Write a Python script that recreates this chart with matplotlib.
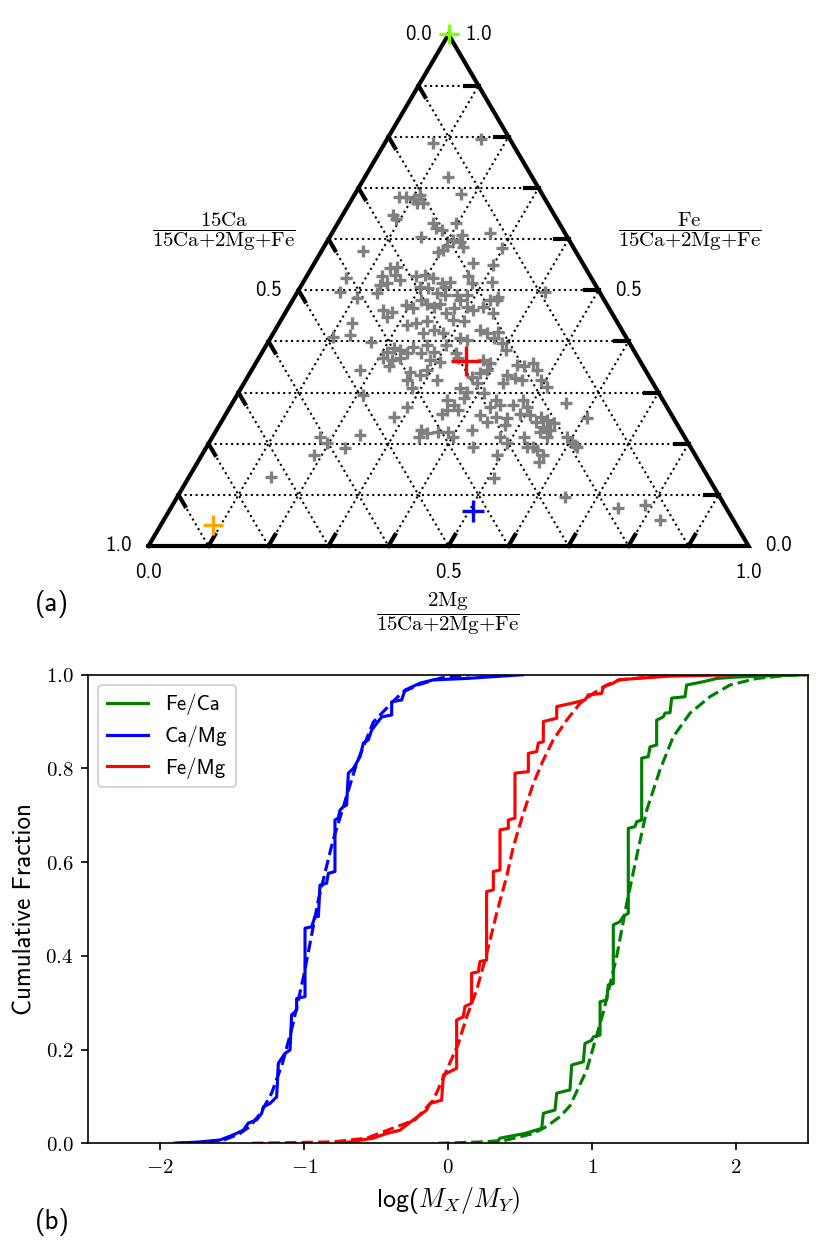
import matplotlib
matplotlib.use('Agg')
import matplotlib.pyplot as plt

plt.rcParams['font.family'] = ['cmss10', 'DejaVu Sans']
plt.rcParams['mathtext.fontset'] = 'cm'
plt.rcParams['axes.unicode_minus'] = False
plt.rcParams['font.size'] = 10

# ---------------- ternary data (fractions of 2Mg and Fe; 15Ca = 1 - both) ----
mg_frac = [0.080, 0.138, 0.177, 0.077, 0.088, 0.103, 0.110, 0.112, 0.122, 0.084,
           0.093, 0.159, 0.169, 0.180, 0.197, 0.152, 0.069, 0.195, 0.204, 0.209,
           0.068, 0.070, 0.125, 0.131, 0.141, 0.146, 0.140, 0.131, 0.159, 0.183,
           0.196, 0.213, 0.232, 0.240, 0.199, 0.214, 0.233, 0.249, 0.245, 0.157,
           0.218, 0.221, 0.232, 0.202, 0.263, 0.298, 0.265, 0.300, 0.269, 0.282,
           0.314, 0.412, 0.285, 0.269, 0.339, 0.105, 0.133, 0.121, 0.130, 0.103,
           0.181, 0.172, 0.160, 0.176, 0.173, 0.194, 0.209, 0.213, 0.227, 0.241,
           0.249, 0.269, 0.287, 0.214, 0.229, 0.245, 0.250, 0.264, 0.283, 0.207,
           0.215, 0.227, 0.208, 0.223, 0.236, 0.225, 0.242, 0.246, 0.265, 0.267,
           0.285, 0.287, 0.306, 0.266, 0.286, 0.292, 0.318, 0.268, 0.285, 0.324,
           0.210, 0.355, 0.359, 0.371, 0.294, 0.282, 0.340, 0.354, 0.244, 0.179,
           0.388, 0.401, 0.197, 0.232, 0.186, 0.279, 0.276, 0.296, 0.310, 0.324,
           0.329, 0.340, 0.347, 0.306, 0.342, 0.356, 0.373, 0.372, 0.391, 0.316,
           0.329, 0.300, 0.333, 0.376, 0.390, 0.392, 0.384, 0.373, 0.388, 0.405,
           0.437, 0.450, 0.462, 0.475, 0.430, 0.447, 0.460, 0.432, 0.491, 0.508,
           0.365, 0.379, 0.381, 0.364, 0.383, 0.409, 0.437, 0.448, 0.433, 0.470,
           0.482, 0.494, 0.489, 0.557, 0.425, 0.442, 0.452, 0.472, 0.476, 0.508,
           0.527, 0.525, 0.541, 0.541, 0.555, 0.556, 0.541, 0.557, 0.605, 0.426,
           0.479, 0.497, 0.518, 0.533, 0.590, 0.603, 0.612, 0.553, 0.569, 0.491,
           0.343, 0.137, 0.371, 0.444, 0.544, 0.568, 0.617, 0.509, 0.646, 0.746,
           0.788, 0.827]
fe_frac = [0.787, 0.721, 0.688, 0.682, 0.683, 0.679, 0.686, 0.670, 0.671, 0.647,
           0.639, 0.631, 0.621, 0.618, 0.632, 0.605, 0.577, 0.575, 0.587, 0.598,
           0.523, 0.497, 0.527, 0.543, 0.546, 0.530, 0.514, 0.510, 0.520, 0.527,
           0.530, 0.523, 0.514, 0.507, 0.507, 0.504, 0.494, 0.491, 0.516, 0.795,
           0.608, 0.595, 0.585, 0.579, 0.611, 0.582, 0.553, 0.549, 0.527, 0.514,
           0.517, 0.497, 0.491, 0.491, 0.487, 0.484, 0.495, 0.435, 0.413, 0.409,
           0.344, 0.399, 0.461, 0.458, 0.448, 0.471, 0.465, 0.481, 0.474, 0.468,
           0.474, 0.455, 0.442, 0.432, 0.435, 0.439, 0.416, 0.422, 0.416, 0.380,
           0.387, 0.383, 0.367, 0.364, 0.367, 0.351, 0.377, 0.390, 0.377, 0.393,
           0.380, 0.364, 0.360, 0.341, 0.334, 0.344, 0.325, 0.325, 0.308, 0.378,
           0.295, 0.285, 0.259, 0.276, 0.272, 0.253, 0.227, 0.220, 0.217, 0.214,
           0.223, 0.214, 0.201, 0.191, 0.178, 0.481, 0.465, 0.468, 0.461, 0.468,
           0.481, 0.481, 0.455, 0.439, 0.422, 0.416, 0.419, 0.406, 0.396, 0.406,
           0.403, 0.393, 0.367, 0.364, 0.357, 0.344, 0.338, 0.331, 0.318, 0.383,
           0.354, 0.351, 0.357, 0.344, 0.334, 0.328, 0.325, 0.318, 0.325, 0.311,
           0.308, 0.302, 0.289, 0.266, 0.266, 0.299, 0.285, 0.276, 0.272, 0.276,
           0.285, 0.272, 0.259, 0.279, 0.256, 0.243, 0.253, 0.250, 0.237, 0.256,
           0.253, 0.243, 0.246, 0.233, 0.240, 0.227, 0.223, 0.214, 0.250, 0.227,
           0.214, 0.201, 0.214, 0.194, 0.214, 0.204, 0.197, 0.188, 0.178, 0.178,
           0.214, 0.135, 0.223, 0.194, 0.194, 0.165, 0.194, 0.132, 0.096, 0.074,
           0.080, 0.051]

special_mg = [0.348, 0.087, 0.507, 0.000]
special_fe = [0.362, 0.042, 0.068, 1.000]
special_colors = ['red', 'orange', 'blue', '#7fff00']
special_sizes = [14.5, 10, 10.5, 10]

grid_values = [0.1, 0.2, 0.3, 0.4, 0.5, 0.6, 0.7, 0.8, 0.9]
label_values = [0.0, 0.5, 1.0]

# ---------------- cumulative distributions ----------------
feca_x = [0.338, 0.361, 0.535, 0.651, 0.662, 0.743, 0.755, 0.847, 0.859, 0.940,
          0.951, 0.998, 1.009, 1.056, 1.056, 1.102, 1.113, 1.148, 1.148, 1.194,
          1.217, 1.252, 1.252, 1.299, 1.310, 1.345, 1.345, 1.391, 1.403, 1.449,
          1.449, 1.495, 1.507, 1.542, 1.553, 1.646, 1.657, 1.773, 1.866, 2.005,
          2.375, 2.500]
feca_y = [0.000, 0.011, 0.021, 0.032, 0.064, 0.071, 0.107, 0.114, 0.167, 0.174,
          0.213, 0.220, 0.227, 0.231, 0.302, 0.306, 0.338, 0.341, 0.466, 0.473,
          0.484, 0.491, 0.672, 0.676, 0.686, 0.690, 0.822, 0.825, 0.846, 0.850,
          0.903, 0.910, 0.918, 0.919, 0.950, 0.953, 0.978, 0.985, 0.992, 0.995,
          0.999, 1.000]
feca_fit_x = [-0.069, 0.245, 0.407, 0.593, 0.685, 0.778, 0.847, 0.963, 1.079,
              1.171, 1.241, 1.310, 1.380, 1.472, 1.565, 1.681, 1.819, 1.958,
              2.144, 2.375, 2.500]
feca_fit_y = [0.000, 0.003, 0.007, 0.021, 0.036, 0.057, 0.080, 0.156, 0.280,
              0.398, 0.512, 0.612, 0.711, 0.797, 0.868, 0.918, 0.953, 0.978,
              0.992, 0.999, 1.000]

camg_x = [-1.900, -1.722, -1.583, -1.491, -1.421, -1.387, -1.329, -1.294, -1.282,
          -1.236, -1.190, -1.178, -1.132, -1.097, -1.086, -1.051, -1.051, -0.993,
          -0.993, -0.947, -0.924, -0.900, -0.889, -0.843, -0.831, -0.785, -0.785,
          -0.762, -0.750, -0.727, -0.704, -0.692, -0.657, -0.611, -0.588, -0.553,
          -0.530, -0.495, -0.460, -0.391, -0.391, -0.322, -0.299, -0.194, -0.102,
          0.130, 0.520]
camg_y = [0.000, 0.003, 0.007, 0.018, 0.028, 0.043, 0.050, 0.064, 0.078,
          0.085, 0.099, 0.171, 0.192, 0.199, 0.274, 0.284, 0.309, 0.313,
          0.459, 0.462, 0.484, 0.484, 0.551, 0.555, 0.576, 0.580, 0.690,
          0.694, 0.711, 0.718, 0.722, 0.790, 0.800, 0.825, 0.854, 0.861,
          0.882, 0.896, 0.910, 0.914, 0.942, 0.946, 0.967, 0.982, 0.989,
          0.992, 1.000]
camg_fit_x = [-1.900, -1.700, -1.550, -1.450, -1.375, -1.300, -1.225, -1.150,
              -1.080, -1.000, -0.900, -0.800, -0.700, -0.634, -0.518, -0.400,
              -0.315, -0.200, -0.050, 0.150]
camg_fit_y = [0.000, 0.002, 0.008, 0.020, 0.036, 0.065, 0.107, 0.170, 0.250,
              0.360, 0.520, 0.645, 0.745, 0.811, 0.899, 0.937, 0.963, 0.979,
              0.993, 1.000]

femg_x = [-0.760, -0.681, -0.519, -0.426, -0.333, -0.241, -0.148, -0.125, -0.044,
          -0.032, 0.014, 0.060, 0.060, 0.106, 0.118, 0.164, 0.164, 0.211, 0.222,
          0.268, 0.268, 0.315, 0.315, 0.361, 0.361, 0.419, 0.419, 0.465, 0.465,
          0.558, 0.558, 0.616, 0.627, 0.662, 0.662, 0.755, 0.755, 0.859, 0.951,
          0.974, 1.067, 1.079, 1.148, 1.183, 1.310, 1.542, 1.866, 1.970]
femg_y = [0.000, 0.003, 0.011, 0.021, 0.028, 0.050, 0.071, 0.085, 0.092,
          0.146, 0.153, 0.160, 0.263, 0.270, 0.292, 0.299, 0.363, 0.366,
          0.388, 0.391, 0.537, 0.541, 0.580, 0.583, 0.669, 0.672, 0.690,
          0.694, 0.790, 0.793, 0.832, 0.836, 0.854, 0.857, 0.900, 0.907,
          0.932, 0.939, 0.946, 0.957, 0.960, 0.974, 0.982, 0.989, 0.992,
          0.997, 0.999, 1.000]
femg_fit_x = [-1.363, -0.800, -0.565, -0.229, -0.102, -0.009, 0.072, 0.130,
              0.199, 0.269, 0.338, 0.407, 0.454, 0.523, 0.593, 0.662, 0.731,
              0.824, 0.917, 1.009, 1.102, 1.194, 1.500, 2.000]
femg_fit_y = [0.000, 0.003, 0.011, 0.050, 0.092, 0.156, 0.213, 0.270, 0.327,
              0.405, 0.491, 0.569, 0.633, 0.704, 0.768, 0.818, 0.861, 0.903,
              0.939, 0.960, 0.978, 0.989, 0.998, 1.000]

xtick_vals = [-2, -1, 0, 1, 2]
ytick_vals = [0.0, 0.2, 0.4, 0.6, 0.8, 1.0]

# ---------------- figure ----------------
W, H = 831, 1254
fig = plt.figure(figsize=(W / 150, H / 150), dpi=150)


def txy(mg, fe):
    return mg + fe / 2.0, fe


axt = fig.add_axes([148.5 / W, 1 - 546 / H, 600 / W, 511.5 / H])
axt.set_xlim(0, 1)
axt.set_ylim(0, 1)
axt.axis('off')

# grid lines
for v in grid_values:
    x0, y0 = txy(0, v); x1, y1 = txy(1 - v, v)
    axt.plot([x0, x1], [y0, y1], ls=':', color='black', lw=1.0, clip_on=False)
    x0, y0 = txy(v, 0); x1, y1 = txy(v, 1 - v)
    axt.plot([x0, x1], [y0, y1], ls=':', color='black', lw=1.0, clip_on=False)
    x0, y0 = txy(0, 1 - v); x1, y1 = txy(1 - v, 0)
    axt.plot([x0, x1], [y0, y1], ls=':', color='black', lw=1.0, clip_on=False)

# frame
cx, cy = zip(txy(0, 0), txy(1, 0), txy(0, 1), txy(0, 0))
axt.plot(cx, cy, color='black', lw=2, solid_joinstyle='miter', clip_on=False, zorder=4)

# ticks
t = 0.022
for v in grid_values:
    a = txy(v, 0); b = txy(v, t)
    axt.plot([a[0], b[0]], [a[1], b[1]], color='black', lw=2, clip_on=False, zorder=4)
    a = txy(0, 1 - v); b = txy(t, 1 - v - t)
    axt.plot([a[0], b[0]], [a[1], b[1]], color='black', lw=2, clip_on=False, zorder=4)
    a = txy(1 - v, v); b = txy(1 - v - t, v)
    axt.plot([a[0], b[0]], [a[1], b[1]], color='black', lw=2, clip_on=False, zorder=4)

# tick labels
for v in label_values:
    lab = f'{v:.1f}'
    axt.annotate(lab, xy=txy(v, 0), xytext=(0, -12.7), textcoords='offset points',
                 ha='center', va='center', fontsize=10, annotation_clip=False)
    axt.annotate(lab, xy=txy(0, 1 - v), xytext=(-14.4, 0), textcoords='offset points',
                 ha='center', va='center', fontsize=10, annotation_clip=False)
    axt.annotate(lab, xy=txy(1 - v, v), xytext=(14.4, 0), textcoords='offset points',
                 ha='center', va='center', fontsize=10, annotation_clip=False)

# data points
px, py = zip(*[txy(m, f) for m, f in zip(mg_frac, fe_frac)])
axt.plot(px, py, ls='none', marker='+', ms=6, mew=1.6, color='gray', clip_on=False, zorder=5)
for m, f, c, s in zip(special_mg, special_fe, special_colors, special_sizes):
    x, y = txy(m, f)
    axt.plot([x], [y], ls='none', marker='+', ms=s, mew=1.6, color=c, clip_on=False, zorder=6)

den = r'15\mathrm{Ca}{+}2\mathrm{Mg}{+}\mathrm{Fe}'
fig.text(223.5 / W, 1 - 232 / H, r'$\dfrac{15\mathrm{Ca}}{' + den + '}$',
         ha='center', va='center', fontsize=10)
fig.text(690 / W, 1 - 232 / H, r'$\dfrac{\mathrm{Fe}}{' + den + '}$',
         ha='center', va='center', fontsize=10)
fig.text(448 / W, 1 - 614 / H, r'$\dfrac{2\mathrm{Mg}}{' + den + '}$',
         ha='center', va='center', fontsize=10)

fig.text(52 / W, 1 - 604 / H, '(a)', ha='center', va='center', fontsize=13)
fig.text(52 / W, 1 - 1222 / H, '(b)', ha='center', va='center', fontsize=13)

# ---------------- CDF panel ----------------
ax = fig.add_axes([88 / W, 1 - 1143.3 / H, 720 / W, 468.6 / H])
ax.plot(feca_x, feca_y, color='green', lw=1.5, label='Fe/Ca')
ax.plot(feca_fit_x, feca_fit_y, color='green', lw=1.5, ls='--')
ax.plot(camg_x, camg_y, color='blue', lw=1.5, label='Ca/Mg')
ax.plot(camg_fit_x, camg_fit_y, color='blue', lw=1.5, ls='--')
ax.plot(femg_x, femg_y, color='red', lw=1.5, label='Fe/Mg')
ax.plot(femg_fit_x, femg_fit_y, color='red', lw=1.5, ls='--')
ax.set_xlim(-2.5, 2.5)
ax.set_ylim(0, 1)
ax.set_xticks(xtick_vals)
ax.set_xticklabels([f'${v:d}$' for v in xtick_vals])
ax.set_yticks(ytick_vals)
ax.set_yticklabels([f'${v:.1f}$' for v in ytick_vals])
ax.set_xlabel(r'log($M_X/M_Y)$', fontsize=12.5)
ax.set_ylabel('Cumulative Fraction', fontsize=12)
ax.legend(loc='upper left')

fig.savefig('out.png', dpi=150)
